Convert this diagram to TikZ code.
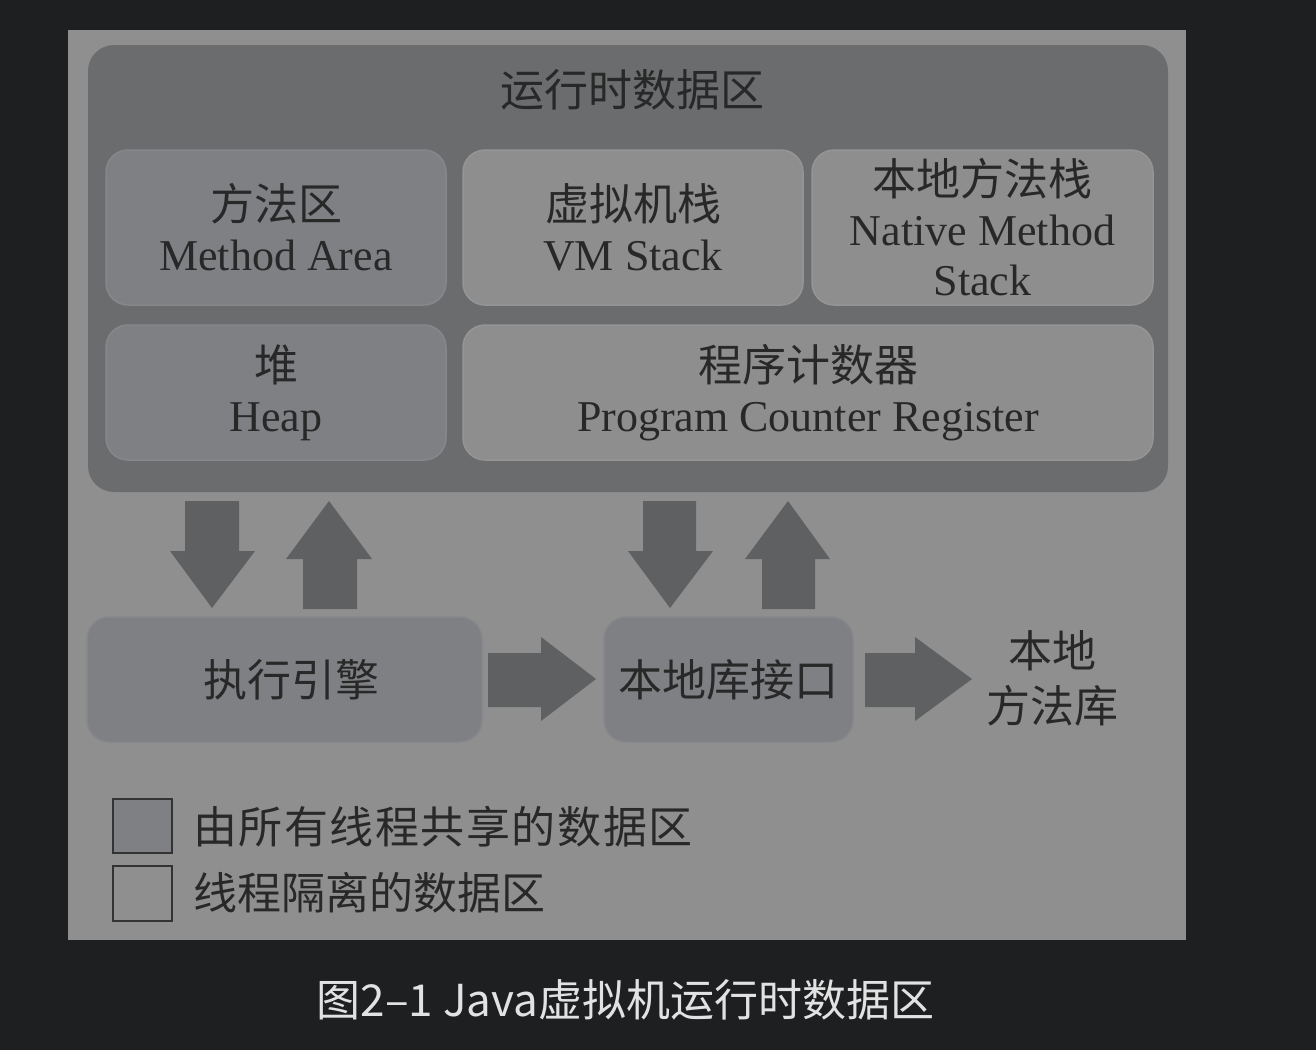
\documentclass[tikz,border=0pt]{standalone}
\usepackage{fontspec}
\setmainfont{Liberation Serif}
\newfontfamily\cjk{Noto Sans CJK SC}
\newfontfamily\cjkwide[LetterSpace=3.5]{Noto Sans CJK SC}
\definecolor{bgdark}{HTML}{1E1F21}
\definecolor{panel}{HTML}{8F8F8F}
\definecolor{rtarea}{HTML}{6B6C6E}
\definecolor{sharedc}{HTML}{7F8083}
\definecolor{sharedline}{HTML}{86878A}
\definecolor{privc}{HTML}{8E8E8E}
\definecolor{privline}{HTML}{959595}
\definecolor{arrowc}{HTML}{5F6062}
\definecolor{ink}{HTML}{282828}
\definecolor{captionc}{HTML}{E2E2E2}
\definecolor{legline}{HTML}{333333}
\begin{document}
\begin{tikzpicture}[x=1pt,y=-1pt,
  txt/.style={text=ink,font=\fontsize{44}{50}\selectfont,align=center,inner sep=0pt},
  area/.style={rounded corners=22pt,inner sep=0pt,text=ink,align=center,font=\fontsize{44}{50}\selectfont},
  sharedbox/.style={area,fill=sharedc,draw=sharedline,line width=1.5pt},
  privbox/.style={area,fill=privc,draw=privline,line width=1.5pt},
  blockarrow/.style={fill=arrowc},
  legbox/.style={draw=legline,line width=2pt}]
\fill[bgdark] (0,0) rectangle (1316,1050);
\useasboundingbox (0,0) rectangle (1316,1050);
\fill[panel] (68,30) rectangle (1186,940);
% runtime data area
\node[fill=rtarea,rounded corners=26pt,minimum width=1080pt,minimum height=447pt,inner sep=0pt] (rt) at (628,268.5) {};
\node[txt] (rttitle) at (632,90) {\cjk 运行时数据区};
% thread areas
\node[sharedbox,minimum width=340pt,minimum height=155pt] (ma) at (276,227.5)
  {{\cjk 方法区}\\Method Area};
\node[privbox,minimum width=340pt,minimum height=155pt] (vms) at (633,227.5)
  {{\cjk 虚拟机栈}\\VM Stack};
\node[privbox,minimum width=341pt,minimum height=155pt] (nms) at (982.5,227.5)
  {{\cjk 本地方法栈}\\Native Method\\Stack};
\node[sharedbox,minimum width=340pt,minimum height=135pt] (heap) at (276,392.5)
  {{\cjk 堆}\\Heap};
\node[privbox,minimum width=690pt,minimum height=135pt] (pc) at (808,392.5)
  {{\cjk 程序计数器}\\Program Counter Register};
% lower row
\node[sharedbox,minimum width=395pt,minimum height=125pt] (ee) at (284.5,679.5) {\hspace*{14pt}\cjk 执行引擎};
\node[sharedbox,minimum width=249pt,minimum height=125pt] (nli) at (728.5,679.5) {\cjk 本地库接口};
\node[txt,font=\fontsize{44}{55}\selectfont] (nml) at (1052,678) {\cjk 本地\\\cjk 方法库};
% block arrows
\fill[blockarrow] (185,501) -- (239,501) -- (239,551) -- (255,551) -- (212,608) -- (170,551) -- (185,551) -- cycle;
\fill[blockarrow] (303,609) -- (357,609) -- (357,559) -- (372,559) -- (329,501) -- (286,559) -- (303,559) -- cycle;
\fill[blockarrow] (643,501) -- (696,501) -- (696,551) -- (713,551) -- (670,608) -- (628,551) -- (643,551) -- cycle;
\fill[blockarrow] (762,609) -- (815,609) -- (815,559) -- (830,559) -- (788,501) -- (745,559) -- (762,559) -- cycle;
\fill[blockarrow] (488,653) -- (541,653) -- (541,637) -- (596,679) -- (541,721) -- (541,707) -- (488,707) -- cycle;
\fill[blockarrow] (865,653) -- (915,653) -- (915,637) -- (972,679) -- (915,721) -- (915,707) -- (865,707) -- cycle;
% legend
\node[legbox,fill=sharedc,minimum width=59pt,minimum height=54pt,inner sep=0pt] (leg1) at (142.5,826) {};
\node[legbox,fill=panel,minimum width=59pt,minimum height=55pt,inner sep=0pt] (leg2) at (142.5,893.5) {};
\node[txt,anchor=west] (leg1t) at (193,827) {\cjkwide 由所有线程共享的数据区};
\node[txt,anchor=west] (leg2t) at (193,893) {\cjk 线程隔离的数据区};
% caption
\node[inner sep=0pt,text=captionc,font=\fontsize{44}{50}\selectfont] (cap) at (625.5,1000) {\cjk 图2–1 Java虚拟机运行时数据区};
\end{tikzpicture}
\end{document}
